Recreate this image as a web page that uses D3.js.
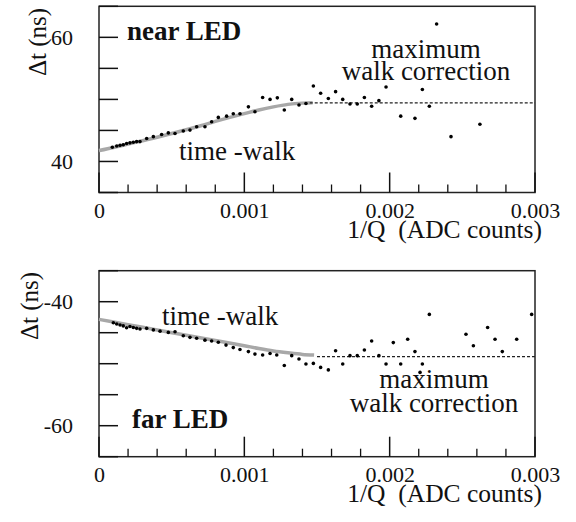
<!DOCTYPE html>
<html>
<head>
<meta charset="utf-8">
<script src="https://cdn.jsdelivr.net/npm/d3@7"></script>
<style>
  body { margin: 0; background: #fff; }
  svg { display: block; font-family: "Liberation Serif", "DejaVu Serif", serif; }
</style>
</head>
<body>
<div class="canvas"></div>
<script>
// near LED: time difference vs 1/Q
var nearX = [0.0000917, 0.000122, 0.000145, 0.000167, 0.00019, 0.000213, 0.000236, 0.000259, 0.000282,
  0.000328, 0.000374, 0.000431, 0.000477, 0.000523, 0.00058, 0.000626, 0.000672, 0.000729, 0.000775,
  0.000821, 0.000878, 0.000924, 0.00097, 0.001028, 0.001073, 0.001126, 0.001177, 0.001227, 0.001275,
  0.001326, 0.001376, 0.001424, 0.001475, 0.001525, 0.001578, 0.001628, 0.001677, 0.001727, 0.001777,
  0.001826, 0.001876, 0.001926, 0.001975, 0.002076, 0.002174, 0.002225, 0.002273, 0.002323, 0.002422, 0.002621];
var nearY = [42.3, 42.5, 42.6, 42.7, 42.9, 43.0, 43.1, 43.2, 43.2,
  43.7, 44.0, 44.35, 44.6, 44.5, 44.9, 45.05, 45.6, 45.6, 46.4,
  47.1, 47.3, 47.7, 47.7, 48.8, 48.0, 50.3, 50.0, 50.25, 48.3,
  50.0, 49.1, 49.35, 52.15, 51.0, 50.15, 51.25, 50.0, 49.25, 49.25,
  50.3, 48.9, 49.8, 52.0, 47.3, 46.95, 51.6, 48.9, 62.15, 44.0, 46.0];

// far LED
var farX = [0.0000986, 0.000122, 0.000145, 0.000167, 0.00019, 0.000213, 0.000236, 0.000259, 0.000282,
  0.000328, 0.000374, 0.00042, 0.000477, 0.000523, 0.00058, 0.000626, 0.000672, 0.000729, 0.000775,
  0.000821, 0.000874, 0.000924, 0.00097, 0.001028, 0.001073, 0.001126, 0.001177, 0.001223, 0.001275,
  0.001326, 0.001376, 0.001424, 0.001475, 0.001525, 0.001578, 0.001628, 0.001677, 0.001727, 0.001777,
  0.001826, 0.001876, 0.001926, 0.001975, 0.002025, 0.002076, 0.002124, 0.002174, 0.002209, 0.002225,
  0.002273, 0.002525, 0.002576, 0.002674, 0.002725, 0.002775, 0.002874, 0.002977];
var farY = [-43.4, -43.6, -43.75, -43.9, -44.2, -44.0, -44.15, -44.3, -44.4,
  -44.3, -44.55, -44.75, -44.95, -44.85, -45.5, -45.75, -45.9, -46.2, -46.35,
  -46.55, -47.0, -47.4, -47.7, -48.05, -48.45, -48.6, -48.35, -48.6, -50.3,
  -48.7, -49.25, -50.05, -49.95, -50.6, -51.0, -47.9, -50.05, -48.7, -48.7,
  -47.8, -46.35, -48.7, -50.05, -46.6, -50.05, -46.05, -48.05, -51.4, -50.05,
  -42.05, -45.25, -47.1, -44.15, -46.05, -48.05, -46.05, -42.05];

// time-walk fit curves (grey) and the flat maximum correction (dashed)
var nearFitX = [0, 0.0001, 0.0002, 0.0003, 0.0004, 0.0005, 0.0006, 0.0007, 0.0008, 0.0009, 0.001, 0.0011, 0.0012, 0.0013, 0.0014, 0.00147];
var nearFitY = [41.75, 42.25, 42.8, 43.35, 43.9, 44.5, 45.1, 45.75, 46.45, 47.1, 47.7, 48.3, 48.8, 49.2, 49.4, 49.45];
var farFitX = [0, 0.0002, 0.0004, 0.0006, 0.0008, 0.001, 0.0011, 0.0012, 0.0013, 0.0014, 0.00148];
var farFitY = [-42.85, -43.7, -44.55, -45.4, -46.25, -47.1, -47.55, -47.95, -48.25, -48.5, -48.6];
var nearMax = [0.00145, 0.003], nearMaxY = 49.45;
var farMax = [0.0015, 0.003], farMaxY = -48.85;

// axis ticks
var xMajor = [0, 0.001, 0.002, 0.003];
var xMajorLabels = ['0', '0.001', '0.002', '0.003'];
var xMinorTicks = [0.0002, 0.0004, 0.0006, 0.0008, 0.0012, 0.0014, 0.0016, 0.0018, 0.0022, 0.0024, 0.0026, 0.0028];
var nearTicks = [35, 40, 45, 50, 55, 60, 65];
var farTicks = [-65, -60, -55, -50, -45, -40, -35];
var nearLabels = {40: '40', 60: '60'};
var farLabels = {'-40': '-40', '-60': '-60'};

const svgWidth = 576, svgHeight = 522;
const left = 99, right = 535;
const ink = '#111';

var svg = d3.select('.canvas').append('svg')
  .attr('width', svgWidth).attr('height', svgHeight)
  .style('background-color', 'white');

var xScale = d3.scaleLinear().domain([0, 0.003]).range([left, right]);

// axis labels only; tick marks are drawn separately below
function styleAxis(a) {
  a.select('.domain').remove();
  a.selectAll('.tick line').remove();
  a.selectAll('text').attr('font-size', 22).attr('font-family', 'Liberation Serif').attr('fill', ink);
}

function drawPanel(p) {
  var yScale = d3.scaleLinear().domain(p.domain).range([p.bottom, p.top]);
  var g = svg.append('g');

  // frame
  g.append('rect').attr('x', left).attr('y', p.top).attr('width', right - left).attr('height', p.bottom - p.top)
    .attr('fill', 'none').attr('stroke', '#222').attr('stroke-width', 1.5);

  // tick labels
  g.append('g').attr('transform', 'translate(' + left + ',0)')
    .call(d3.axisLeft(yScale).tickValues(p.ticks).tickSize(0).tickPadding(26).tickFormat(d => p.labels[d] || ''))
    .call(styleAxis);
  g.append('g').attr('transform', 'translate(0,' + p.bottom + ')')
    .call(d3.axisBottom(xScale).tickValues(xMajor).tickSize(0).tickPadding(10).tickFormat((d, i) => xMajorLabels[i]))
    .call(styleAxis);

  // tick marks pointing inside the frame
  g.selectAll('line.yt').data(p.ticks).enter().append('line').attr('class', 'yt')
    .attr('x1', left).attr('x2', left + 19).attr('y1', d => yScale(d)).attr('y2', d => yScale(d))
    .attr('stroke', ink).attr('stroke-width', 1.5);
  g.selectAll('line.xt').data(xMajor).enter().append('line').attr('class', 'xt')
    .attr('x1', d => xScale(d)).attr('x2', d => xScale(d)).attr('y1', p.bottom).attr('y2', p.bottom - 20)
    .attr('stroke', ink).attr('stroke-width', 1.5);
  g.selectAll('line.xm').data(xMinorTicks).enter().append('line').attr('class', 'xm')
    .attr('x1', d => xScale(d)).attr('x2', d => xScale(d)).attr('y1', p.bottom).attr('y2', p.bottom - 8)
    .attr('stroke', ink).attr('stroke-width', 1.3);

  // fit curve
  var line = d3.line().x(d => xScale(d[0])).y(d => yScale(d[1])).curve(d3.curveMonotoneX);
  g.append('path').datum(p.fitX.map((v, i) => [v, p.fitY[i]]))
    .attr('d', line).attr('fill', 'none').attr('stroke', '#a8a8a8').attr('stroke-width', 3.5);
  g.append('path').datum(p.maxX.map(v => [v, p.maxY]))
    .attr('d', d3.line().x(d => xScale(d[0])).y(d => yScale(d[1])))
    .attr('fill', 'none').attr('stroke', '#222').attr('stroke-width', 1.3).attr('stroke-dasharray', '3,2');

  // points
  g.selectAll('circle.pt').data(p.xs).enter().append('circle').attr('class', 'pt')
    .attr('cx', d => xScale(d)).attr('cy', (d, i) => yScale(p.ys[i])).attr('r', 1.8).attr('fill', '#000');

  // axis titles
  g.append('text').attr('transform', 'translate(' + p.yLabelX + ',' + p.yLabelY + ')rotate(-90)')
    .attr('text-anchor', 'middle').attr('font-size', 25).attr('fill', ink).text('\u0394t (ns)');
  g.append('text').attr('x', 542).attr('y', p.bottom + 45).attr('text-anchor', 'end')
    .attr('font-size', 25.5).attr('fill', ink).style('white-space', 'pre')
    .text('1/Q  (ADC counts)');

  // annotations
  p.notes.forEach(n => {
    g.append('text').attr('x', n.x).attr('y', n.y).attr('text-anchor', n.anchor || 'start')
      .attr('font-size', 27).attr('font-weight', n.bold ? 'bold' : 'normal').attr('fill', ink).text(n.t);
  });
}

drawPanel({
  domain: [35, 65], top: 6.3, bottom: 192.5, ticks: nearTicks, labels: nearLabels,
  fitX: nearFitX, fitY: nearFitY, maxX: nearMax, maxY: nearMaxY, xs: nearX, ys: nearY,
  yLabelX: 46, yLabelY: 42,
  notes: [
    {t: 'near LED', x: 127, y: 40, bold: true},
    {t: 'maximum', x: 426, y: 58, anchor: 'middle'},
    {t: 'walk correction', x: 426, y: 80, anchor: 'middle'},
    {t: 'time -walk', x: 179, y: 160}
  ]
});

drawPanel({
  domain: [-65, -35], top: 270.7, bottom: 456.7, ticks: farTicks, labels: farLabels,
  fitX: farFitX, fitY: farFitY, maxX: farMax, maxY: farMaxY, xs: farX, ys: farY,
  yLabelX: 38, yLabelY: 306,
  notes: [
    {t: 'time -walk', x: 162, y: 325},
    {t: 'maximum', x: 434, y: 388, anchor: 'middle'},
    {t: 'walk correction', x: 434, y: 412, anchor: 'middle'},
    {t: 'far LED', x: 132, y: 428, bold: true}
  ]
});
</script>
</body>
</html>
